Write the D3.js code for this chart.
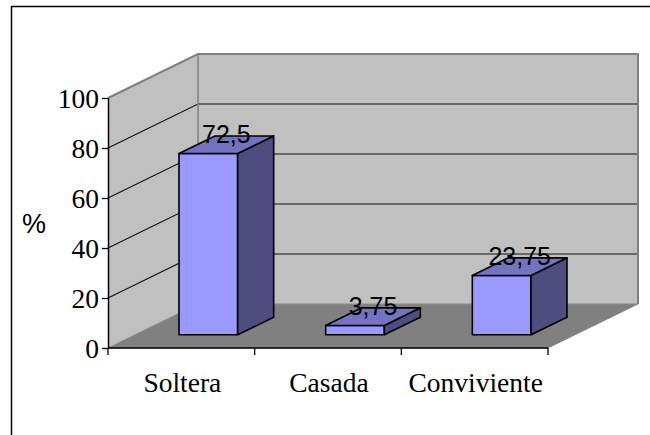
<!DOCTYPE html>
<html>
<head>
<meta charset="utf-8">
<script src="https://cdn.jsdelivr.net/npm/d3@7"></script>
<style>
  html, body { margin: 0; padding: 0; background: #fff; }
  svg { display: block; }
</style>
</head>
<body>
<svg id="chart" width="650" height="435"></svg>
<script>
// Estado civil (%)
const categories = ["Soltera", "Casada", "Conviviente"];
const values = [72.5, 3.75, 23.75];
const labels = ["72,5", "3,75", "23,75"];
const yTicks = [0, 20, 40, 60, 80, 100];

const svg = d3.select("#chart");

// Oblique projection of the 3D plot box
const DX = 90, DY = -44;          // full depth offset of the box
const D0 = 0.3, D1 = 0.7;          // depth span of each bar (fraction)

const x = d3.scaleBand().domain(categories).range([108, 548])
  .paddingInner(0.6).paddingOuter(0.3);
const xCat = d3.scaleBand().domain(categories).range([108, 548]).padding(0);
const y = d3.scaleLinear().domain([0, 100]).range([348, 98]);

const P = (px, py, d) => [px + d * DX, py + d * DY];
const poly = pts => "M" + pts.map(p => p.join(",")).join("L") + "Z";

// Outer chart frame
svg.append("rect").attr("x", 11.5).attr("y", 6.5).attr("width", 700).attr("height", 500)
  .attr("fill", "none").attr("stroke", "#000").attr("stroke-width", 1.5);

const [x0, x1] = x.range();
const y0 = y(0), yTop = y(100);

// Side wall
svg.append("path")
  .attr("d", poly([P(x0, y0, 0), P(x0, yTop, 0), P(x0, yTop, 1), P(x0, y0, 1)]))
  .attr("fill", "#c0c0c0");

// Back wall
svg.append("path")
  .attr("d", poly([P(x0, y0, 1), P(x0, yTop, 1), P(x1, yTop, 1), P(x1, y0, 1)]))
  .attr("fill", "#c0c0c0");

// Floor
svg.append("path")
  .attr("d", poly([P(x0, y0, 0), P(x1, y0, 0), P(x1, y0, 1), P(x0, y0, 1)]))
  .attr("fill", "#808080").attr("stroke", "#8a8a8a").attr("stroke-width", 1);

// Gridlines on side and back walls
yTicks.filter(v => v > 0 && v < 100).forEach(v => {
  const a = P(x0, y(v), 0), b = P(x0, y(v), 1), c = P(x1, y(v), 1);
  svg.append("path").attr("d", `M${a}L${b}L${c}`)
    .attr("fill", "none").attr("stroke", "#111").attr("stroke-width", 1.2);
});

// Top and right borders of the walls
{
  const a = P(x0, yTop, 0), b = P(x0, yTop, 1), c = P(x1, yTop, 1), e = P(x1, y0, 1);
  svg.append("path").attr("d", `M${a}L${b}L${c}L${e}`)
    .attr("fill", "none").attr("stroke", "#808080").attr("stroke-width", 2);
  svg.append("line").attr("x1", b[0]).attr("y1", b[1]).attr("x2", P(x0, y0, 1)[0]).attr("y2", P(x0, y0, 1)[1])
    .attr("stroke", "#808080").attr("stroke-width", 1.5);
}

// Bars as 3D boxes
const bars = svg.append("g");
categories.forEach((cat, i) => {
  const bx0 = x(cat), bx1 = x(cat) + x.bandwidth();
  const yb = y(0), yt = y(values[i]);
  const g = bars.append("g").attr("stroke", "#000").attr("stroke-width", 1.6)
    .attr("stroke-linejoin", "round");
  // front
  g.append("path").attr("fill", "#9999ff")
    .attr("d", poly([P(bx0, yb, D0), P(bx1, yb, D0), P(bx1, yt, D0), P(bx0, yt, D0)]));
  // side
  g.append("path").attr("fill", "#4d4d80")
    .attr("d", poly([P(bx1, yb, D0), P(bx1, yb, D1), P(bx1, yt, D1), P(bx1, yt, D0)]));
  // top
  g.append("path").attr("fill", "#7373bf")
    .attr("d", poly([P(bx0, yt, D0), P(bx1, yt, D0), P(bx1, yt, D1), P(bx0, yt, D1)]));
});

// Value labels
categories.forEach((cat, i) => {
  const c = P(x(cat) + x.bandwidth() / 2, y(values[i]), (D0 + D1) / 2);
  svg.append("text").attr("x", c[0]).attr("y", c[1] - 2)
    .attr("text-anchor", "middle")
    .attr("font-family", "Liberation Sans, Arial, sans-serif")
    .attr("font-size", 25).attr("fill", "#000")
    .text(labels[i]);
});

// Y axis
const yAxis = svg.append("g").attr("transform", `translate(${x0},0)`)
  .call(d3.axisLeft(y).tickValues(yTicks).tickSize(6).tickSizeOuter(0).tickPadding(3));
yAxis.select(".domain").attr("stroke", "#000").attr("stroke-width", 1.5);
yAxis.selectAll(".tick line").attr("stroke", "#000").attr("stroke-width", 1.3);
yAxis.selectAll(".tick text")
  .attr("font-family", "Liberation Serif, Times New Roman, serif")
  .attr("font-size", 27.5).attr("fill", "#000").attr("dy", "0.35em");

// X axis baseline with category ticks
svg.append("line").attr("x1", x0).attr("x2", x1).attr("y1", y0).attr("y2", y0)
  .attr("stroke", "#000").attr("stroke-width", 1.5);
const bounds = categories.map(c => xCat(c)).concat([x1]);
svg.selectAll(".xtick").data(bounds).enter().append("line")
  .attr("x1", d => d).attr("x2", d => d).attr("y1", y0).attr("y2", y0 + 7)
  .attr("stroke", "#000").attr("stroke-width", 1.3);
svg.selectAll(".xlabel").data(categories).enter().append("text")
  .attr("x", d => xCat(d) + xCat.bandwidth() / 2 + 1)
  .attr("y", 392)
  .attr("text-anchor", "middle")
  .attr("font-family", "Liberation Serif, Times New Roman, serif")
  .attr("font-size", 27.5).attr("fill", "#000")
  .text(d => d);

// Axis title
svg.append("text").attr("x", 34).attr("y", 233).attr("text-anchor", "middle")
  .attr("font-family", "Liberation Sans, Arial, sans-serif")
  .attr("font-size", 27).attr("fill", "#000").text("%");
</script>
</body>
</html>
